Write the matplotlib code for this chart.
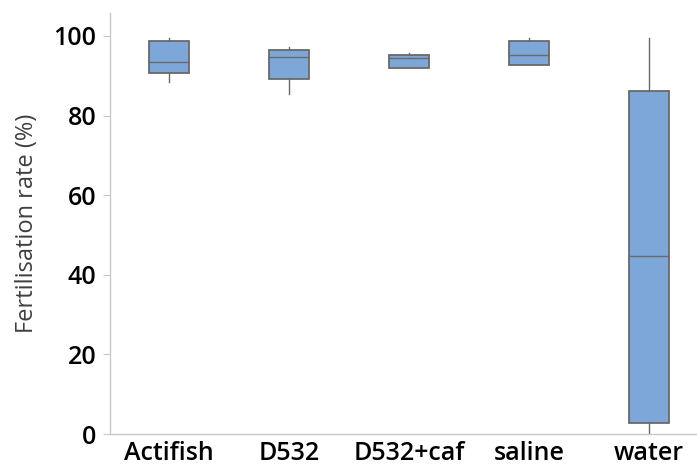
import matplotlib.pyplot as plt

groups = ['Actifish', 'D532', 'D532+caf', 'saline', 'water']
whis_low = [88.4, 85.4, 92.0, 92.7, 0.0]
q1 = [90.8, 89.1, 92.0, 92.7, 2.7]
medians = [93.5, 94.8, 94.4, 95.1, 44.8]
q3 = [98.7, 96.4, 95.1, 98.7, 86.2]
whis_high = [99.4, 97.1, 95.6, 99.4, 99.4]

plt.rcParams['font.family'] = ['Open Sans', 'DejaVu Sans']

stats = []
for name, lo, a, m, b, hi in zip(groups, whis_low, q1, medians, q3, whis_high):
    stats.append({'label': name, 'whislo': lo, 'q1': a, 'med': m,
                  'q3': b, 'whishi': hi, 'fliers': []})

fig = plt.figure(figsize=(6.97, 4.68), dpi=100)
ax = fig.add_axes([0.158, 0.0726, 0.842, 0.9])

edge = '#6a6a6a'
ax.bxp(stats, positions=range(len(groups)), widths=0.33, patch_artist=True,
       showcaps=False, showfliers=False,
       boxprops=dict(facecolor='#7da7d9', edgecolor=edge, linewidth=1.3),
       medianprops=dict(color=edge, linewidth=1.0),
       whiskerprops=dict(color=edge, linewidth=1.0))

ax.set_xlim(-0.49, 4.4)
ax.set_ylim(0, 105.8)
ax.set_yticks([0, 20, 40, 60, 80, 100])
ax.set_xticks(range(len(groups)))
ax.set_xticklabels(groups)

for s in ['top', 'right']:
    ax.spines[s].set_visible(False)
for s in ['left', 'bottom']:
    ax.spines[s].set_color('#c8c8c8')
    ax.spines[s].set_linewidth(1.0)
ax.tick_params(axis='y', colors='#c8c8c8', length=5, labelcolor='black',
               labelsize=18, pad=5)
ax.tick_params(axis='x', length=0, labelcolor='black', labelsize=18, pad=5)
for lbl in ax.get_xticklabels() + ax.get_yticklabels():
    lbl.set_fontweight('semibold')

ax.set_ylabel('Fertilisation rate (%)', fontsize=17, color='#404040',
              labelpad=10)

fig.savefig('out.png', dpi=100)
